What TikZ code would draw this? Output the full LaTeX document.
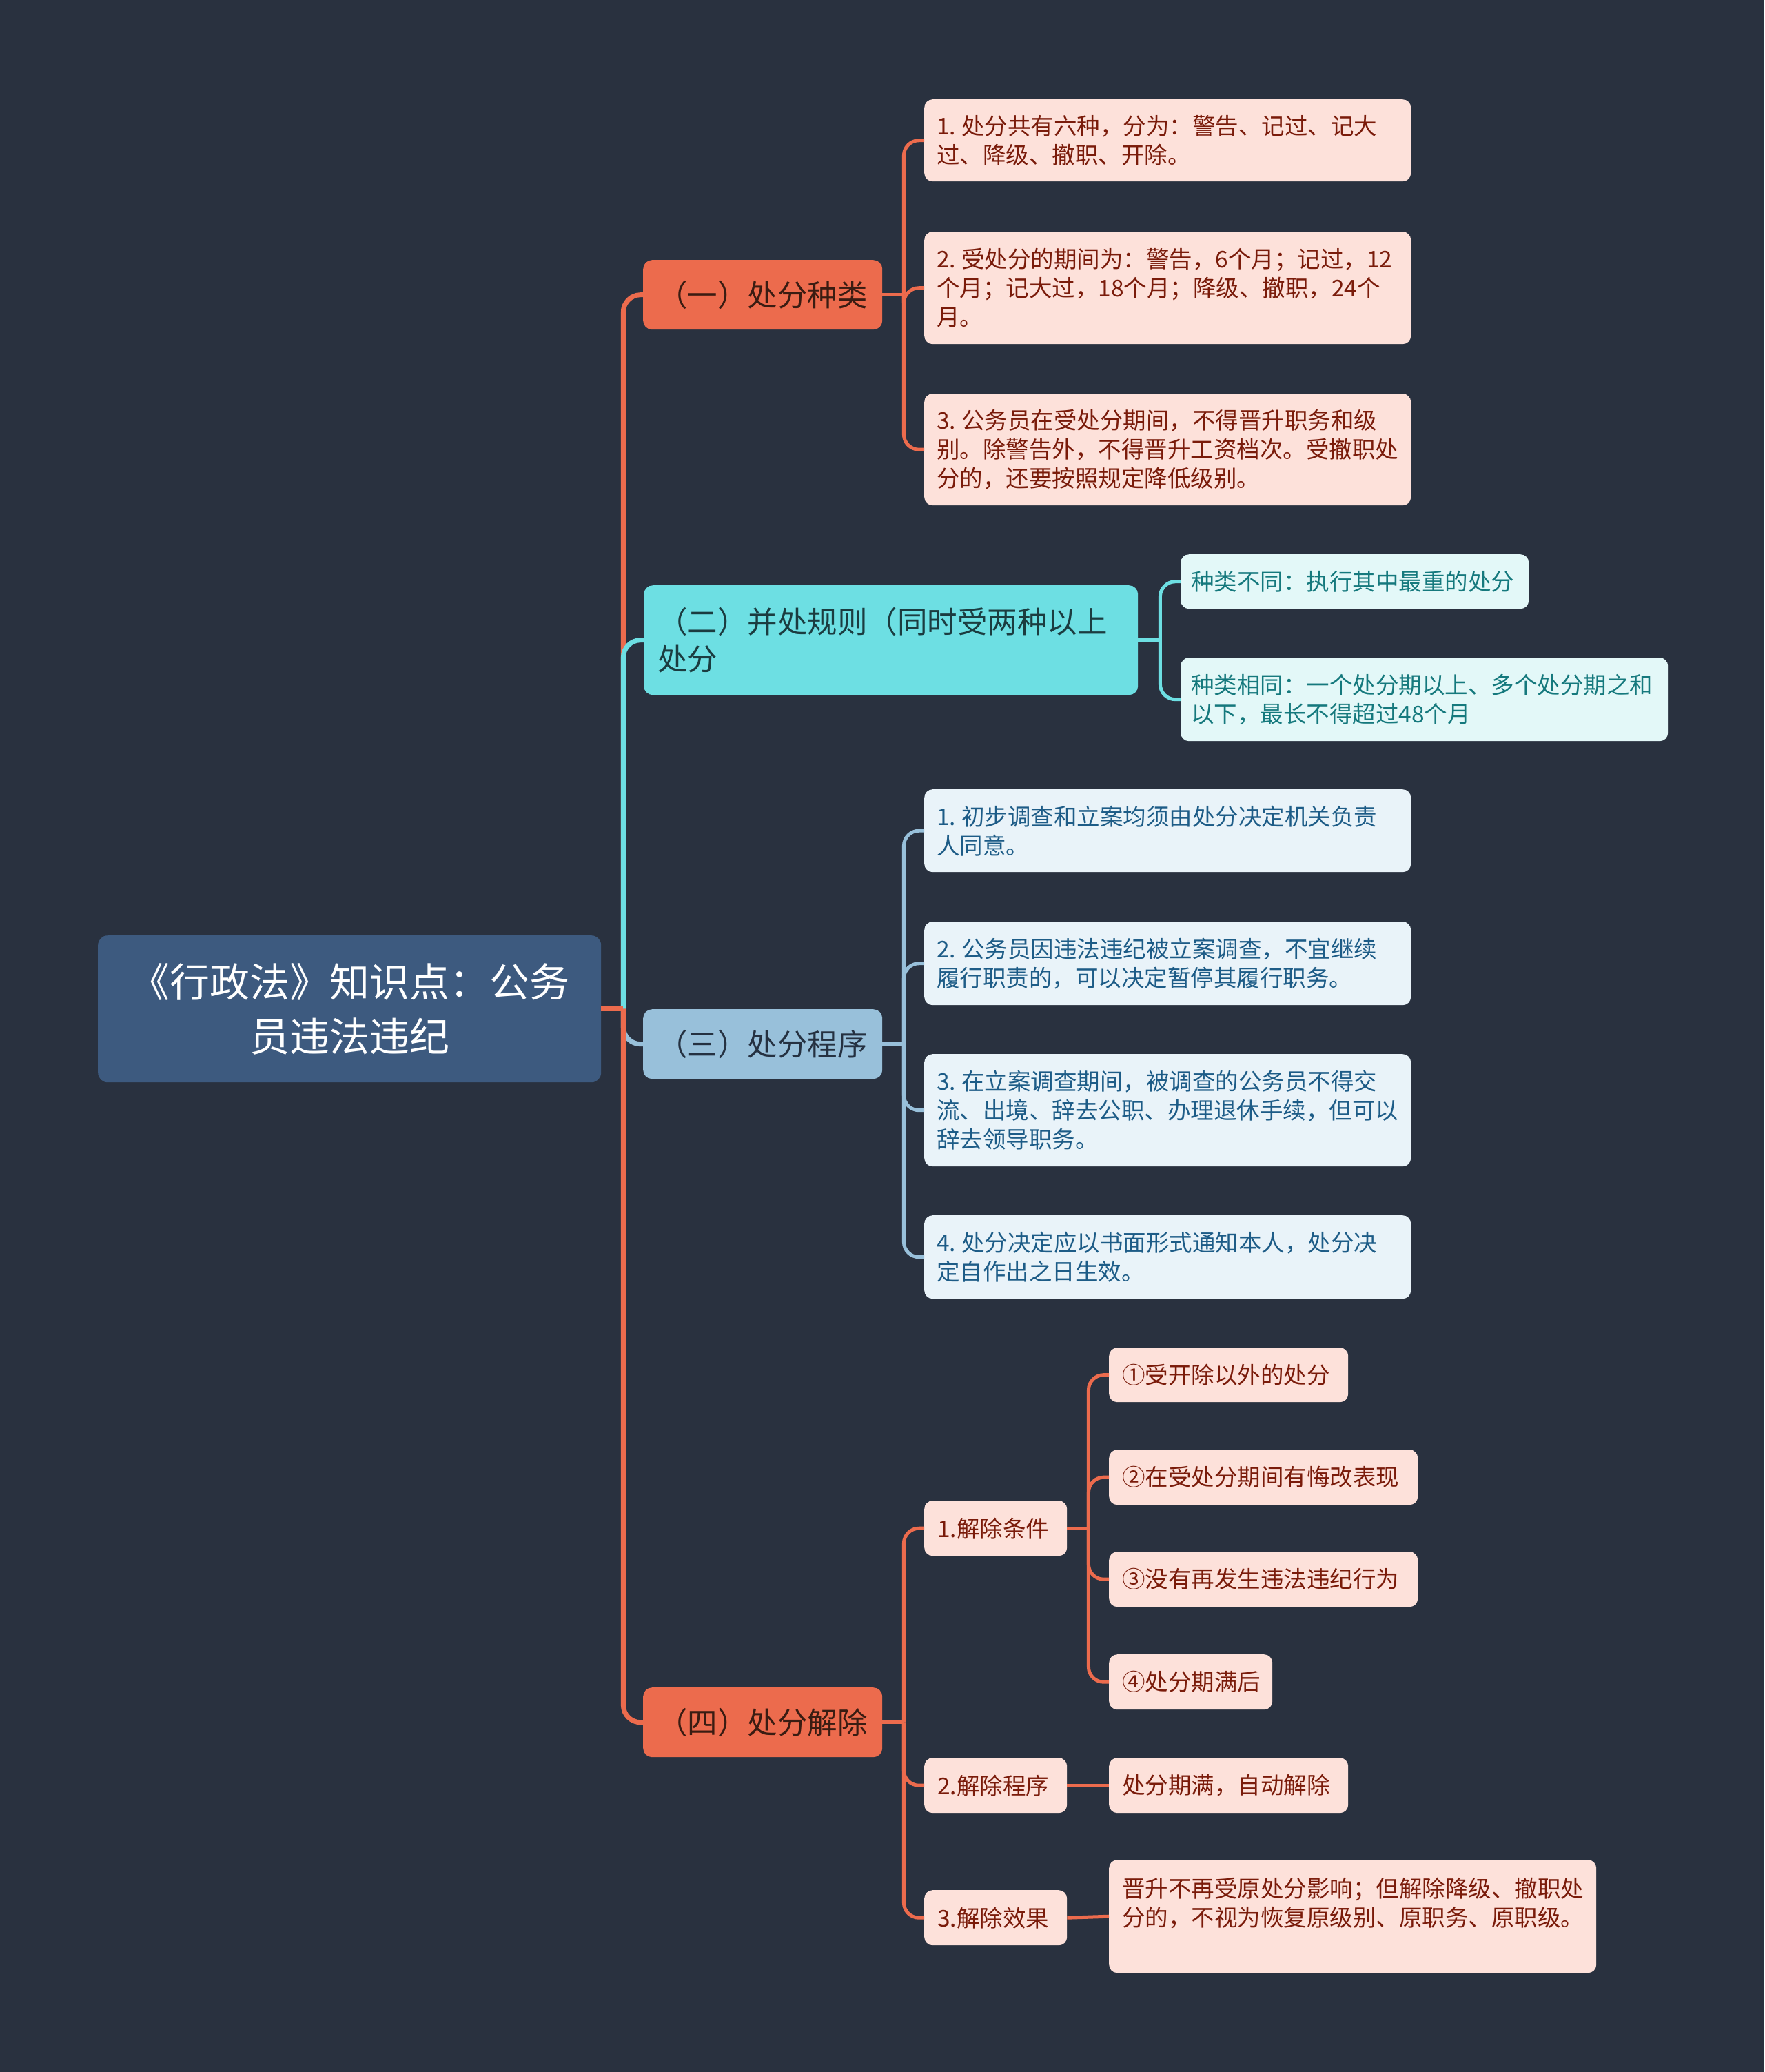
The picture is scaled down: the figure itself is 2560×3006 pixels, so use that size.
\documentclass[tikz,border=0pt]{standalone}
\usepackage{fontspec}
\setmainfont{Noto Sans CJK SC}
\usetikzlibrary{calc}
\definecolor{bg}{HTML}{29313F}
\definecolor{rootfill}{HTML}{3D5A7F}
\definecolor{orangeC}{HTML}{EC6B4D}
\definecolor{cyanC}{HTML}{6DDFE3}
\definecolor{blueC}{HTML}{98C0DA}
\definecolor{pinkfill}{HTML}{FDE1DA}
\definecolor{pinktext}{HTML}{7A1B0A}
\definecolor{cyanfill}{HTML}{E3F8F8}
\definecolor{cyantext}{HTML}{15797D}
\definecolor{bluefill}{HTML}{E9F3F9}
\definecolor{bluetext}{HTML}{1D5C87}
\definecolor{darkO}{HTML}{3A1C12}
\definecolor{darkC}{HTML}{1B3C40}
\definecolor{darkB}{HTML}{253141}
\newcommand\fsz[2]{\fontsize{#1}{#2}\selectfont}
\newcommand\nsp{\hspace{8pt}}
\tikzset{
  base/.style={rounded corners=12pt, inner ysep=0pt, anchor=north west, align=left},
  rootbox/.style={base, rounded corners=14pt, fill=rootfill, text=white, align=center, inner xsep=20pt, font=\fsz{58}{79}},
  lonebox/.style={base, rounded corners=13pt, align=center, inner xsep=10pt, font=\fsz{43.5}{54}},
  pinkbox/.style={base, fill=pinkfill, text=pinktext, inner xsep=18pt, font=\fsz{33.5}{42}},
  cyanbox/.style={base, fill=cyanfill, text=cyantext, inner xsep=15pt, font=\fsz{33.5}{42}},
  bluebox/.style={base, fill=bluefill, text=bluetext, inner xsep=18pt, font=\fsz{33.5}{42}},
  trunk/.style={line width=7pt},
  twig/.style={line width=5pt},
}
\begin{document}
\begin{tikzpicture}[x=1pt,y=-1pt]
\useasboundingbox (0,0) rectangle (2560,3006);
\fill[bg] (0,0) rectangle (2560,3006);

% root
\node[rootbox, text width=690, minimum height=213] (root) at (142,1357)
  {《行政法》知识点：公务\\员违法违纪};

% level 1
\node[lonebox, fill=orangeC, text=darkO, text width=327, minimum height=101] (n1) at (933,377) {（一）处分种类};
\node[lonebox, fill=cyanC, text=darkC, align=left, inner xsep=20pt, text width=677, minimum height=159] (n2) at (934,849)
  {（二）并处规则（同时受两种以上\\处分};
\node[lonebox, fill=blueC, text=darkB, text width=327, minimum height=101] (n3) at (933,1464) {（三）处分程序};
\node[lonebox, fill=orangeC, text=darkO, text width=327, minimum height=101] (n4) at (933,2448) {（四）处分解除};

% children of (一)
\node[pinkbox, text width=670, minimum height=119] (c1) at (1341,144)
  {1.\nsp 处分共有六种，分为：警告、记过、记大\\过、降级、撤职、开除。};
\node[pinkbox, text width=670, minimum height=163] (c2) at (1341,336)
  {2.\nsp 受处分的期间为：警告，6个月；记过，12\\个月；记大过，18个月；降级、撤职，24个\\月。};
\node[pinkbox, text width=670, minimum height=162] (c3) at (1341,571)
  {3.\nsp 公务员在受处分期间，不得晋升职务和级\\别。除警告外，不得晋升工资档次。受撤职处\\分的，还要按照规定降低级别。};

% children of (二)
\node[cyanbox, text width=475, minimum height=79] (d1) at (1713,804)
  {种类不同：执行其中最重的处分};
\node[cyanbox, text width=677, minimum height=121] (d2) at (1713,954)
  {种类相同：一个处分期以上、多个处分期之和\\以下，最长不得超过48个月};

% children of (三)
\node[bluebox, text width=670, minimum height=120] (e1) at (1341,1145)
  {1.\nsp 初步调查和立案均须由处分决定机关负责\\人同意。};
\node[bluebox, text width=670, minimum height=121] (e2) at (1341,1337)
  {2.\nsp 公务员因违法违纪被立案调查，不宜继续\\履行职责的，可以决定暂停其履行职务。};
\node[bluebox, text width=670, minimum height=163] (e3) at (1341,1529)
  {3.\nsp 在立案调查期间，被调查的公务员不得交\\流、出境、辞去公职、办理退休手续，但可以\\辞去领导职务。};
\node[bluebox, text width=670, minimum height=121] (e4) at (1341,1763)
  {4.\nsp 处分决定应以书面形式通知本人，处分决\\定自作出之日生效。};

% children of (四)
\node[pinkbox, inner xsep=19pt, text width=169, minimum height=80] (f1) at (1341,2177) {1.解除条件};
\node[pinkbox, inner xsep=19pt, text width=169, minimum height=80] (f2) at (1341,2550) {2.解除程序};
\node[pinkbox, inner xsep=19pt, text width=169, minimum height=80] (f3) at (1341,2742) {3.解除效果};

\node[pinkbox, inner xsep=19pt, text width=309, minimum height=79] (g1) at (1609,1955) {①受开除以外的处分};
\node[pinkbox, inner xsep=19pt, text width=410, minimum height=80] (g2) at (1609,2103) {②在受处分期间有悔改表现};
\node[pinkbox, inner xsep=19pt, text width=410, minimum height=80] (g3) at (1609,2251) {③没有再发生违法违纪行为};
\node[pinkbox, inner xsep=19pt, text width=199, minimum height=80] (g4) at (1609,2400) {④处分期满后};
\node[pinkbox, inner xsep=19pt, text width=309, minimum height=80] (h1) at (1609,2550) {处分期满，自动解除};
\node[pinkbox, inner xsep=19pt, text width=669, minimum height=164] (h2) at (1609,2698)
  {晋升不再受原处分影响；但解除降级、撤职处\\分的，不视为恢复原级别、原职务、原职级。\\\mbox{}};

% ---- connectors ----
\coordinate (s0) at ($(root.east)+(32,0)$);
\draw[trunk, orangeC, rounded corners=25pt] (s0) |- (n1.west);
\draw[trunk, cyanC, rounded corners=25pt] (s0) |- (n2.west);
\draw[trunk, blueC, rounded corners=25pt] (s0) |- (n3.west);
\draw[trunk, orangeC, rounded corners=25pt] (s0) |- (n4.west);
\draw[trunk, orangeC] (root.east) -- (s0);

\coordinate (s1) at ($(n1.east)+(31,0)$);
\draw[twig, orangeC] (n1.east) -- (s1);
\foreach \c in {c1,c2,c3} \draw[twig, orangeC, rounded corners=22pt] (s1) |- (\c.west);

\coordinate (s2) at ($(n2.east)+(32,0)$);
\draw[twig, cyanC] (n2.east) -- (s2);
\foreach \c in {d1,d2} \draw[twig, cyanC, rounded corners=22pt] (s2) |- (\c.west);

\coordinate (s3) at ($(n3.east)+(31,0)$);
\draw[twig, blueC] (n3.east) -- (s3);
\foreach \c in {e1,e2,e3,e4} \draw[twig, blueC, rounded corners=22pt] (s3) |- (\c.west);

\coordinate (s4) at ($(n4.east)+(31,0)$);
\draw[twig, orangeC] (n4.east) -- (s4);
\foreach \c in {f1,f2,f3} \draw[twig, orangeC, rounded corners=22pt] (s4) |- (\c.west);

\coordinate (s5) at ($(f1.east)+(31,0)$);
\draw[twig, orangeC] (f1.east) -- (s5);
\foreach \c in {g1,g2,g3,g4} \draw[twig, orangeC, rounded corners=22pt] (s5) |- (\c.west);

\draw[twig, orangeC] (f2.east) -- (h1.west);
\draw[twig, orangeC] (f3.east) -- (h2.west);
\end{tikzpicture}
\end{document}
